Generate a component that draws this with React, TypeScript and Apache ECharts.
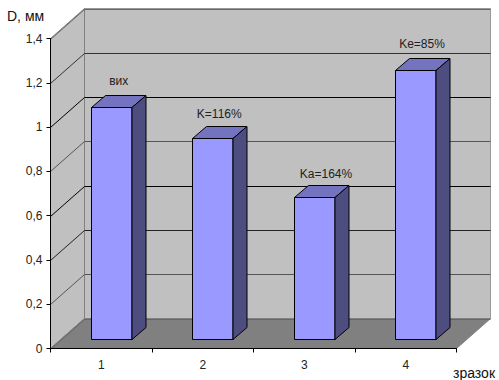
import React, { useEffect, useRef } from "react";
import * as echarts from "echarts";

const categories = ["1", "2", "3", "4"];
const diameters = [1.045, 0.905, 0.64, 1.213];
const barLabels = ["вих", "K=116%", "Ka=164%", "Ke=85%"];
const labelShifts = [7, 6.5, 11.25, 6.25];
const labelRises = [14.5, 13, 12, 15];
const yTicks = [0, 0.2, 0.4, 0.6, 0.8, 1, 1.2, 1.4];
const gridTones = ["#666666", "#555555", "#222222", "#000000", "#555555", "#000000", "#333333", "#666666"];
const yTitle = "D, мм";
const xTitle = "зразок";

const FONT = '"Liberation Sans", Arial, sans-serif';
// Oblique projection of the 3D box: wall offset and bar depth, in pixels
const WALL_DX = 34;
const WALL_DY = 30;
const BAR_DX = 14;
const BAR_DY = 12;
const BAR_W = 40.5;
const BAR_SHIFT_X = 9.7;
const BAR_SHIFT_Y = 10;

const LEFT = 50.5;
const TOP = 38.5;
const WIDTH = 406;
const HEIGHT = 310;

export default function App() {
  const ref = useRef<HTMLDivElement>(null);

  useEffect(() => {
    if (!ref.current) return;
    const chart = echarts.init(ref.current, undefined, { renderer: "svg" });

    chart.setOption({
      animation: false,
      backgroundColor: "#ffffff",
      grid: { left: LEFT, top: TOP, width: WIDTH, height: HEIGHT, containLabel: false },
      xAxis: {
        type: "category",
        data: categories,
        z: 5,
        axisLine: { lineStyle: { color: "#000000", width: 1 } },
        axisTick: { show: true, alignWithLabel: false, length: 4, lineStyle: { color: "#000000" } },
        axisLabel: { color: "#222222", fontFamily: FONT, fontSize: 12, margin: 10 },
        splitLine: { show: false },
      },
      yAxis: {
        type: "value",
        min: 0,
        max: 1.4,
        interval: 0.2,
        z: 5,
        axisLine: { show: true, lineStyle: { color: "#000000", width: 1 } },
        axisTick: { show: true, length: 4, lineStyle: { color: "#000000" } },
        axisLabel: {
          color: "#222222",
          fontFamily: FONT,
          fontSize: 12,
          margin: 8,
          formatter: (v: number) => String(Number(v.toFixed(1))).replace(".", ","),
        },
        splitLine: { show: false },
      },
      graphic: [
        {
          type: "text",
          x: 7,
          y: 9,
          style: { text: yTitle, fill: "#111111", font: `14px ${FONT}` },
        },
        {
          type: "text",
          x: 453,
          y: 366,
          style: { text: xTitle, fill: "#111111", font: `14px ${FONT}` },
        },
      ],
      series: [
        {
          // Back wall, side wall and floor of the box
          type: "custom",
          coordinateSystem: "cartesian2d",
          clip: false,
          silent: true,
          z: 1,
          data: [[0, 0]],
          renderItem: (params: any) => {
            const { x, y, width, height } = params.coordSys;
            const b = y + height;
            const r = x + width;
            const poly = (points: number[][], fill: string, stroke: string) => ({
              type: "polygon",
              shape: { points },
              style: { fill, stroke, lineWidth: 1 },
            });
            return {
              type: "group",
              children: [
                poly(
                  [
                    [x + WALL_DX, y - WALL_DY],
                    [r + WALL_DX, y - WALL_DY],
                    [r + WALL_DX, b - WALL_DY],
                    [x + WALL_DX, b - WALL_DY],
                  ],
                  "#c0c0c0",
                  "#999999"
                ),
                poly(
                  [
                    [x, y],
                    [x + WALL_DX, y - WALL_DY],
                    [x + WALL_DX, b - WALL_DY],
                    [x, b],
                  ],
                  "#c0c0c0",
                  "#808080"
                ),
                poly(
                  [
                    [x, b],
                    [x + WALL_DX, b - WALL_DY],
                    [r + WALL_DX, b - WALL_DY],
                    [r, b],
                  ],
                  "#808080",
                  "#808080"
                ),
              ],
            };
          },
        },
        {
          // Gridlines folded across the side wall and the back wall
          type: "custom",
          coordinateSystem: "cartesian2d",
          clip: false,
          silent: true,
          z: 2,
          data: yTicks.map((t, i) => [0, t, i]),
          renderItem: (params: any, api: any) => {
            const { x, width } = params.coordSys;
            const yy = Math.round(api.coord([0, api.value(1)])[1]) + 0.5;
            return {
              type: "polyline",
              shape: {
                points: [
                  [x, yy],
                  [x + WALL_DX, yy - WALL_DY],
                  [x + width + WALL_DX, yy - WALL_DY],
                ],
              },
              style: { fill: "none", stroke: gridTones[api.value(2)], lineWidth: 1 },
            };
          },
        },
        {
          // Bars: front face, top face, side face and the text above
          type: "custom",
          coordinateSystem: "cartesian2d",
          clip: false,
          silent: true,
          z: 3,
          data: diameters.map((d, i) => [i, d]),
          renderItem: (params: any, api: any) => {
            const i = api.value(0);
            const top = api.coord([i, api.value(1)]);
            const base = api.coord([i, 0]);
            const l = Math.round(top[0] + BAR_SHIFT_X - BAR_W / 2) + 0.5;
            const r = l + BAR_W;
            const t = Math.round(top[1] - BAR_SHIFT_Y) + 0.5;
            const b = Math.round(base[1] - BAR_SHIFT_Y) + 0.5;
            const face = (points: number[][], fill: string) => ({
              type: "polygon",
              shape: { points },
              style: { fill, stroke: "#000000", lineWidth: 1 },
            });
            return {
              type: "group",
              children: [
                face(
                  [
                    [l, t],
                    [r, t],
                    [r, b],
                    [l, b],
                  ],
                  "#9999ff"
                ),
                face(
                  [
                    [l, t],
                    [l + BAR_DX, t - BAR_DY],
                    [r + BAR_DX, t - BAR_DY],
                    [r, t],
                  ],
                  "#7373bf"
                ),
                face(
                  [
                    [r, t],
                    [r + BAR_DX, t - BAR_DY],
                    [r + BAR_DX, b - BAR_DY],
                    [r, b],
                  ],
                  "#4d4d80"
                ),
                {
                  type: "text",
                  style: {
                    text: barLabels[i],
                    x: (l + r) / 2 + labelShifts[i],
                    y: t - BAR_DY - labelRises[i],
                    fill: "#222222",
                    font: `12px ${FONT}`,
                    align: "center",
                    verticalAlign: "middle",
                  },
                },
              ],
            };
          },
        },
      ],
    });

    return () => chart.dispose();
  }, []);

  return (
    <div
      ref={ref}
      style={{ position: "fixed", left: 0, top: 0, width: 499, height: 380, background: "#ffffff" }}
    />
  );
}
